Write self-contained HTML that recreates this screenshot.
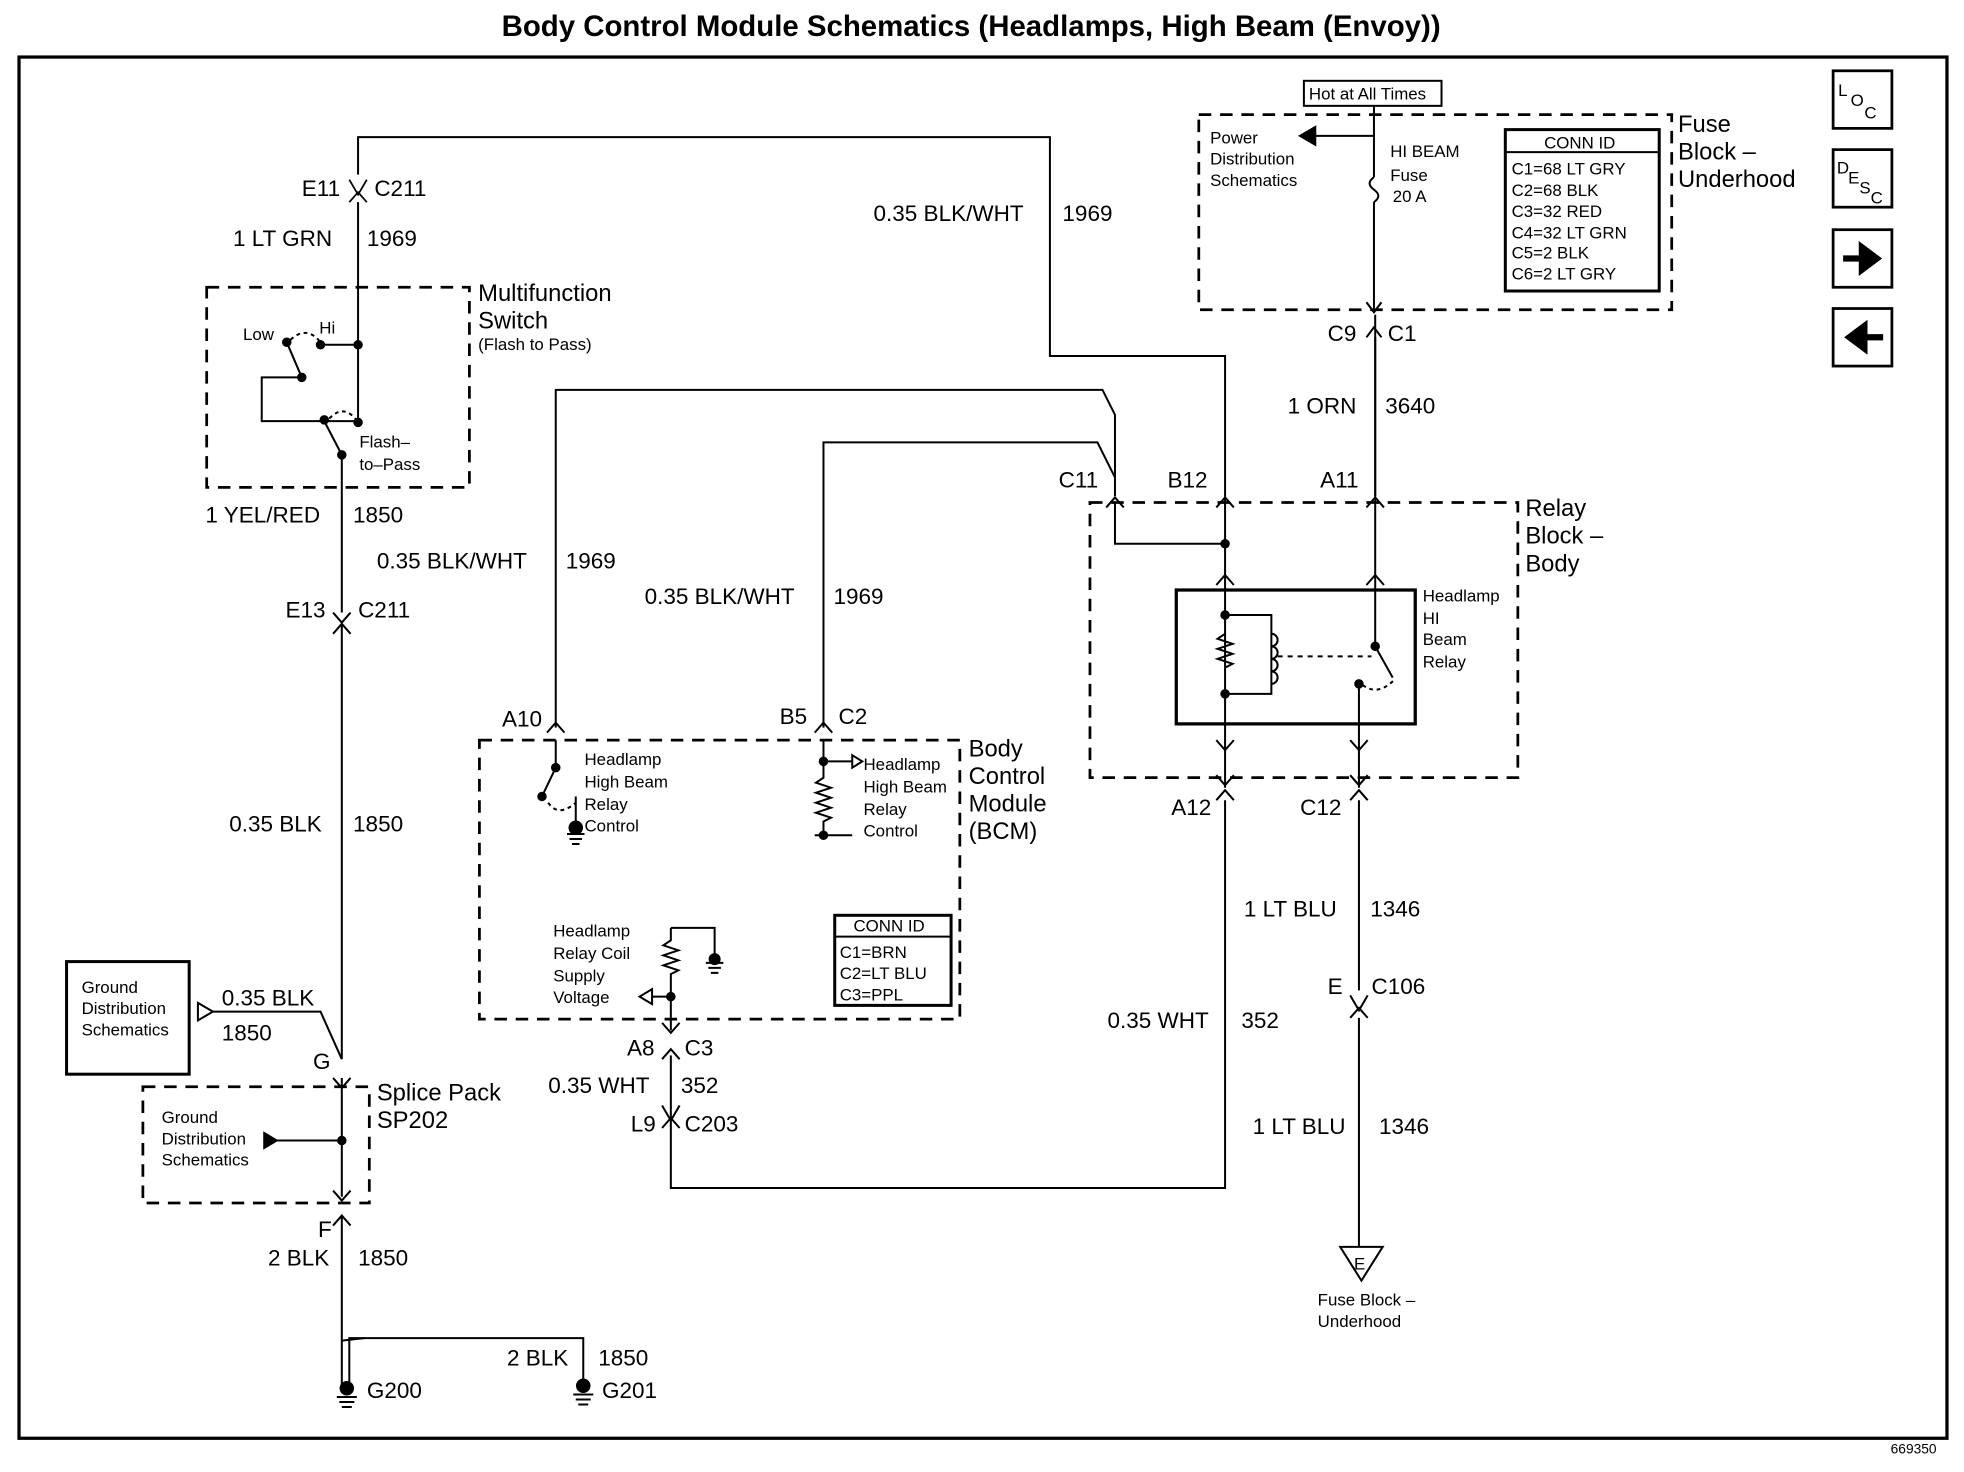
<!DOCTYPE html>
<html><head><meta charset="utf-8"><style>
html,body{margin:0;padding:0;background:#fff}
svg{display:block}
text{font-family:"Liberation Sans",sans-serif;fill:#000}
.l{font-size:18px}.s{font-size:13.5px}.m{font-size:19px}
</style></head><body>
<svg width="1964" height="1472" viewBox="0 0 1964 1472" xmlns="http://www.w3.org/2000/svg">
<g transform="matrix(1.2511,0,0,1.2511,1.5,2)" fill="none" stroke="#000" stroke-width="1.6">
<rect x="14" y="44" width="1541" height="1104" stroke-width="2.6"/>
<text x="775" y="27" text-anchor="middle" style="font-size:23.5px;font-weight:bold" stroke="none">Body Control Module Schematics (Headlamps, High Beam (Envoy))</text>
<g stroke-width="2.2"><rect x="1464" y="55" width="47" height="46"/><rect x="1464" y="118" width="47" height="46"/><rect x="1464" y="182" width="47" height="46"/><rect x="1464" y="245" width="47" height="46"/></g>
<g stroke="none" class="s"><text x="1468" y="75">L</text><text x="1478" y="83">O</text><text x="1489" y="93">C</text>
<text x="1467" y="137">D</text><text x="1476" y="145">E</text><text x="1485" y="153">S</text><text x="1494" y="161">C</text></g>
<path d="M1472 205h22M1487 196l12 9-12 9z" fill="#000" stroke-width="5"/>
<path d="M1504 268h-22M1489 259l-12 9 12 9z" fill="#000" stroke-width="5"/>
<path d="M285 138V108H838V283H978V395"/>
<path d="M278 142l7 12 7-12M278 160l7-8 7 8" stroke-width="1.4"/>
<path d="M285 160V335"/>
<g stroke="none" class="l"><text x="240" y="155">E11</text><text x="298" y="155">C211</text><text x="185" y="195">1 LT GRN</text><text x="292" y="195">1969</text>
<text x="697" y="175">0.35 BLK/WHT</text><text x="848" y="175">1969</text></g>
<rect x="164" y="228" width="210" height="160" stroke-dasharray="10,7" stroke-width="2.2"/>
<path d="M255 274H285M240 300L228 272M240 300H208V335H272L258 335M272 362L258 335M285 335H258"/>
<path d="M231 270Q244 258 255 272" stroke-dasharray="3,3"/>
<path d="M262 333Q274 320 285 336" stroke-dasharray="3,3"/>
<g fill="#000"><circle cx="228" cy="272" r="3"/><circle cx="255" cy="274" r="3"/><circle cx="285" cy="274" r="3"/><circle cx="285" cy="336" r="3"/><circle cx="258" cy="334" r="3"/><circle cx="240" cy="300" r="3"/><circle cx="272" cy="362" r="3"/></g>
<g stroke="none"><text class="m" x="381" y="239">Multifunction</text><text class="m" x="381" y="261">Switch</text><text class="s" x="381" y="278">(Flash to Pass)</text>
<text class="s" x="193" y="270">Low</text><text class="s" x="254" y="265">Hi</text><text class="s" x="286" y="356">Flash–</text><text class="s" x="286" y="374">to–Pass</text>
<text class="l" x="163" y="416">1 YEL/RED</text><text class="l" x="281" y="416">1850</text><text class="l" x="227" y="492">E13</text><text class="l" x="285" y="492">C211</text>
<text class="l" x="182" y="663">0.35 BLK</text><text class="l" x="281" y="663">1850</text></g>
<path d="M272 362V488M265 505l7-8 7 8M265 488l7 8 7-8M272 497V845"/>
<path d="M443 580V310H880L890 330V395M657 580V352H876L890 380"/>
<path d="M436 584l7-8 7 8M650 584l7-8 7 8M883 404l7-8 7 8M971 404l7-8 7 8M1091 404l7-8 7 8"/>
<g stroke="none" class="l"><text x="300" y="453">0.35 BLK/WHT</text><text x="451" y="453">1969</text><text x="514" y="481">0.35 BLK/WHT</text><text x="665" y="481">1969</text>
<text x="400" y="579">A10</text><text x="622" y="577">B5</text><text x="669" y="577">C2</text>
<text x="845" y="388">C11</text><text x="932" y="388">B12</text><text x="1054" y="388">A11</text></g>
<rect x="870" y="400" width="342" height="220" stroke-dasharray="10,7" stroke-width="2.2"/>
<path d="M890 400V433H978M978 395V470M1098 250V470"/>
<circle cx="978" cy="433" r="3" fill="#000"/>
<rect x="939" y="470" width="191" height="107" stroke-width="2.6"/>
<path d="M971 466l7-8 7 8M1091 466l7-8 7 8M971 590l7 8 7-8M1078 590l7 8 7-8M971 618l7 8 7-8M1078 618l7 8 7-8"/>
<path d="M978 470V577M978 490H1015V553H978M978 505l-6 4 12 4-12 4 12 4-12 4 12 4-6 3"/>
<path d="M1015 505a5 5 0 0 1 0 10a5 5 0 0 1 0 10a5 5 0 0 1 0 10a5 5 0 0 1 0 10"/>
<path d="M1098 470V515L1112 540M1085 545V577"/>
<path d="M1020 523H1095" stroke-dasharray="4,4"/>
<path d="M1088 546Q1100 555 1113 542" stroke-dasharray="3,3"/>
<g fill="#000"><circle cx="978" cy="490" r="3"/><circle cx="978" cy="553" r="3"/><circle cx="1085" cy="545" r="3"/><circle cx="1098" cy="515" r="3"/></g>
<g stroke="none"><text class="m" x="1218" y="411">Relay</text><text class="m" x="1218" y="433">Block –</text><text class="m" x="1218" y="455">Body</text>
<text class="s" x="1136" y="479">Headlamp</text><text class="s" x="1136" y="497">HI</text><text class="s" x="1136" y="514">Beam</text><text class="s" x="1136" y="532">Relay</text></g>
<path d="M978 577V628M971 638l7-8 7 8M978 638V948H535V842M1085 577V628M1078 638l7-8 7 8M1085 638V790M1078 794l7 12 7-12M1078 812l7-8 7 8M1085 812V995"/>
<path d="M1070 995H1104L1087 1022Z"/>
<g stroke="none"><text class="s" x="1081" y="1013">E</text><text class="s" x="1052" y="1042">Fuse Block –</text><text class="s" x="1052" y="1059">Underhood</text>
<text class="l" x="935" y="650">A12</text><text class="l" x="1038" y="650">C12</text><text class="l" x="993" y="731">1 LT BLU</text><text class="l" x="1094" y="731">1346</text>
<text class="l" x="1060" y="793">E</text><text class="l" x="1095" y="793">C106</text><text class="l" x="884" y="820">0.35 WHT</text><text class="l" x="991" y="820">352</text>
<text class="l" x="1000" y="905">1 LT BLU</text><text class="l" x="1101" y="905">1346</text></g>
<rect x="957" y="90" width="378" height="156" stroke-dasharray="10,7" stroke-width="2.2"/>
<rect x="1041" y="63" width="110" height="20"/>
<path d="M1097 83V140M1097 160V245M1097 107H1050M1050 100l-12 7 12 7z"/>
<path d="M1050 100l-12 7 12 7z" fill="#000"/>
<path d="M1097 140q-7 5 0 10q7 5 0 10"/>
<path d="M1091 240l6 8 6-8M1091 268l6-8 6 8M1098 268V395"/>
<rect x="1202" y="102" width="123" height="129" stroke-width="2.4"/>
<path d="M1202 120H1325"/>
<g stroke="none"><text class="s" x="1045" y="78">Hot at All Times</text><text class="s" x="966" y="113">Power</text><text class="s" x="966" y="130">Distribution</text><text class="s" x="966" y="147">Schematics</text>
<text class="s" x="1110" y="124">HI BEAM</text><text class="s" x="1110" y="143">Fuse</text><text class="s" x="1112" y="160">20 A</text>
<text class="s" x="1233" y="117">CONN ID</text><text class="s" x="1207" y="138">C1=68 LT GRY</text><text class="s" x="1207" y="155">C2=68 BLK</text><text class="s" x="1207" y="172">C3=32 RED</text><text class="s" x="1207" y="189">C4=32 LT GRN</text><text class="s" x="1207" y="205">C5=2 BLK</text><text class="s" x="1207" y="222">C6=2 LT GRY</text>
<text class="m" x="1340" y="104">Fuse</text><text class="m" x="1340" y="126">Block –</text><text class="m" x="1340" y="148">Underhood</text>
<text class="l" x="1060" y="271">C9</text><text class="l" x="1108" y="271">C1</text><text class="l" x="1028" y="329">1 ORN</text><text class="l" x="1106" y="329">3640</text></g>
<rect x="382" y="590" width="384" height="223" stroke-dasharray="10,7" stroke-width="2.2"/>
<path d="M443 590V612L432 635M459 635V660M452 665H466M454 669H464M456 673H462"/>
<path d="M437 640Q445 652 459 640" stroke-dasharray="3,3"/>
<path d="M657 590V620l-6 4 12 4-12 4 12 4-12 4 12 4-12 4 12 4-6 3V666M657 607H680M650 666H680M680 602l8 5-8 5z"/>
<g fill="#000"><circle cx="443" cy="612" r="3"/><circle cx="459" cy="660" r="5"/><circle cx="657" cy="666" r="3"/><circle cx="657" cy="607" r="3"/><circle cx="432" cy="635" r="3"/></g>
<path d="M535 740H570V765M563 768H577M565 772H575M567 776H573M535 740V750l-6 4 12 4-12 4 12 4-12 4 12 4-6 3V822M535 795H520M520 789l-10 6 10 6z"/>
<circle cx="535" cy="795" r="3" fill="#000"/><circle cx="570" cy="765" r="4" fill="#000"/>
<rect x="666" y="730" width="93" height="72" stroke-width="2.4"/><path d="M666 747H759"/>
<g stroke="none"><text class="s" x="466" y="610">Headlamp</text><text class="s" x="466" y="628">High Beam</text><text class="s" x="466" y="646">Relay</text><text class="s" x="466" y="663">Control</text>
<text class="s" x="689" y="614">Headlamp</text><text class="s" x="689" y="632">High Beam</text><text class="s" x="689" y="650">Relay</text><text class="s" x="689" y="667">Control</text>
<text class="m" x="773" y="603">Body</text><text class="m" x="773" y="625">Control</text><text class="m" x="773" y="647">Module</text><text class="m" x="773" y="669">(BCM)</text>
<text class="s" x="441" y="747">Headlamp</text><text class="s" x="441" y="765">Relay Coil</text><text class="s" x="441" y="783">Supply</text><text class="s" x="441" y="800">Voltage</text>
<text class="s" x="681" y="743">CONN ID</text><text class="s" x="670" y="764">C1=BRN</text><text class="s" x="670" y="781">C2=LT BLU</text><text class="s" x="670" y="798">C3=PPL</text>
<text class="l" x="500" y="842">A8</text><text class="l" x="546" y="842">C3</text><text class="l" x="437" y="872">0.35 WHT</text><text class="l" x="543" y="872">352</text>
<text class="l" x="503" y="903">L9</text><text class="l" x="546" y="903">C203</text></g>
<path d="M528 816l7 8 7-8M528 845l7-8 7 8M528 882l7 12 7-12M528 900l7-8 7 8"/>
<rect x="52" y="767" width="98" height="90" stroke-width="2.4"/>
<path d="M157 800l12 7-12 7zM169 807H255L272 845"/>
<g stroke="none"><text class="s" x="64" y="792">Ground</text><text class="s" x="64" y="809">Distribution</text><text class="s" x="64" y="826">Schematics</text>
<text class="l" x="176" y="802">0.35 BLK</text><text class="l" x="176" y="830">1850</text><text class="l" x="249" y="853">G</text>
<text class="m" x="300" y="878">Splice Pack</text><text class="m" x="300" y="900">SP202</text>
<text class="s" x="128" y="896">Ground</text><text class="s" x="128" y="913">Distribution</text><text class="s" x="128" y="930">Schematics</text>
<text class="l" x="253" y="987">F</text><text class="l" x="213" y="1010">2 BLK</text><text class="l" x="285" y="1010">1850</text>
<text class="l" x="404" y="1090">2 BLK</text><text class="l" x="477" y="1090">1850</text>
<text class="l" x="292" y="1116">G200</text><text class="l" x="480" y="1116">G201</text>
<text x="1510" y="1160" style="font-size:11px">669350</text></g>
<rect x="113" y="867" width="181" height="93" stroke-dasharray="10,7" stroke-width="2.2"/>
<path d="M265 860l7 8 7-8M272 860V955M265 950l7 8 7-8M265 978l7-8 7 8M272 970V1105M278 1105V1068H290"/>
<path d="M272 1070L290 1068H465V1103M210 910H272"/>
<path d="M210 904l10 6-10 6z" fill="#000"/><circle cx="272" cy="910" r="3" fill="#000"/>
<circle cx="276" cy="1108" r="5" fill="#000"/><path d="M268 1115H284M270 1119H282M272 1123H280"/>
<circle cx="465" cy="1106" r="5" fill="#000"/><path d="M457 1113H473M459 1117H471M461 1121H469"/>
</g>
</svg>
</body></html>
